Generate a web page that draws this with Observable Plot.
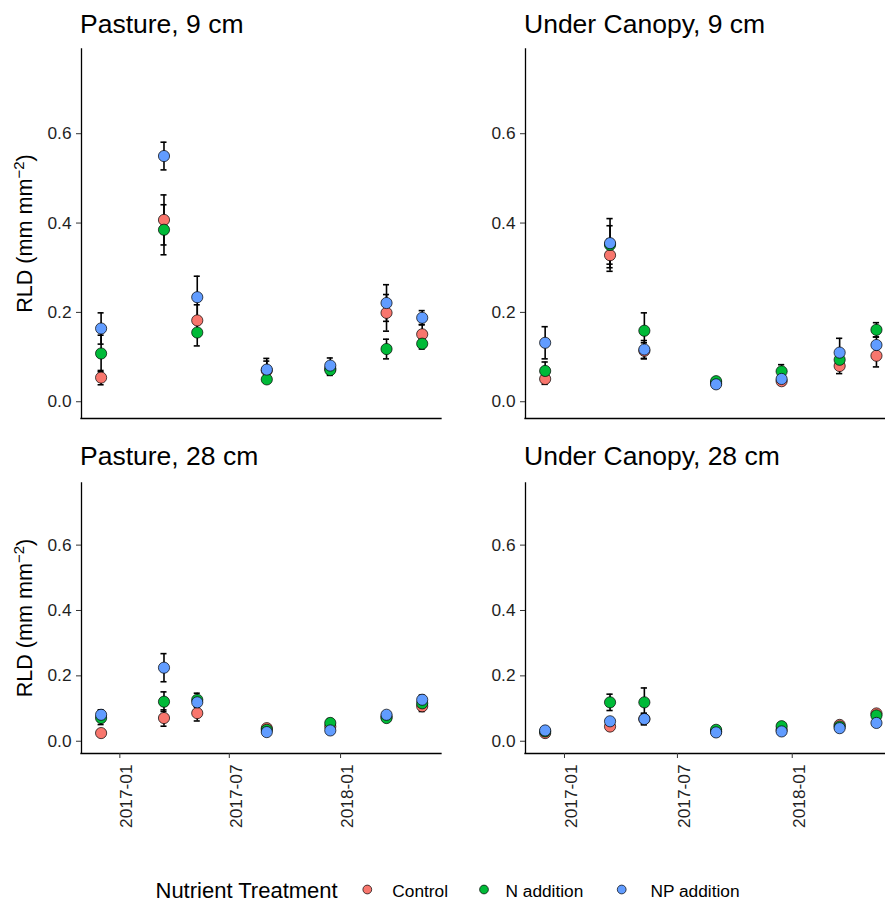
<!DOCTYPE html>
<html><head><meta charset="utf-8">
<script src="https://cdn.jsdelivr.net/npm/d3@7"></script>
<script src="https://cdn.jsdelivr.net/npm/@observablehq/plot@0.6"></script>
<style>
body{margin:0;background:#fff;}
#chart{position:relative;width:885px;height:901px;font-family:"Liberation Sans",Arial,sans-serif;}
.panel{position:absolute;}
#overlay{position:absolute;left:0;top:0;}
</style>
</head><body><div id="chart"></div>
<script>
// ---- data ----
const dates = ["2016-12-01","2017-03-15","2017-05-09","2017-09-01","2017-12-15","2018-03-18","2018-05-16"];
const treatments = ["Control","N addition","NP addition"];
const colors = ["#F8766D","#00BA38","#619CFF"];
const xTickDates = ["2017-01-01","2017-07-01","2018-01-01"];
const yTicks = [0, 0.2, 0.4, 0.6];

// rows: Control, N addition, NP addition
const pasture9Mean = [
  [0.054, 0.407, 0.182, 0.070, 0.074, 0.199, 0.151],
  [0.108, 0.385, 0.155, 0.050, 0.071, 0.118, 0.130],
  [0.164, 0.550, 0.234, 0.072, 0.081, 0.221, 0.188]];
const pasture9SE = [
  [0.016, 0.056, 0.035, 0.021, 0.012, 0.041, 0.022],
  [0.041, 0.056, 0.030, 0.008, 0.012, 0.022, 0.012],
  [0.035, 0.031, 0.047, 0.025, 0.017, 0.041, 0.016]];
const canopy9Mean = [
  [0.051, 0.328, 0.114, 0.042, 0.046, 0.080, 0.103],
  [0.069, 0.351, 0.159, 0.046, 0.068, 0.094, 0.161],
  [0.132, 0.355, 0.117, 0.039, 0.051, 0.110, 0.127]];
const canopy9SE = [
  [0.012, 0.036, 0.018, 0.004, 0.004, 0.017, 0.025],
  [0.020, 0.043, 0.040, 0.004, 0.015, 0.015, 0.016],
  [0.036, 0.055, 0.020, 0.004, 0.006, 0.032, 0.018]];
const pasture28Mean = [
  [0.025, 0.071, 0.086, 0.040, 0.045, 0.075, 0.107],
  [0.071, 0.121, 0.127, 0.035, 0.056, 0.071, 0.116],
  [0.081, 0.225, 0.119, 0.028, 0.033, 0.081, 0.127]];
const pasture28SE = [
  [0.005, 0.025, 0.024, 0.010, 0.008, 0.006, 0.016],
  [0.020, 0.030, 0.020, 0.006, 0.013, 0.006, 0.012],
  [0.015, 0.043, 0.015, 0.005, 0.005, 0.008, 0.014]];
const canopy28Mean = [
  [0.025, 0.045, 0.068, 0.030, 0.035, 0.050, 0.085],
  [0.030, 0.119, 0.119, 0.035, 0.046, 0.045, 0.079],
  [0.033, 0.061, 0.068, 0.027, 0.030, 0.040, 0.056]];
const canopy28SE = [
  [0.004, 0.008, 0.015, 0.004, 0.004, 0.008, 0.009],
  [0.004, 0.025, 0.044, 0.004, 0.005, 0.006, 0.010],
  [0.004, 0.008, 0.018, 0.003, 0.004, 0.005, 0.006]];

// ---- layout ----
const yDomain = [-0.0375, 0.7885];
const leftXDomain = [new Date("2016-10-29T14:00Z"), new Date("2018-06-16T22:00Z")];
const rightXDomain = [new Date("2016-10-30T12:00Z"), new Date("2018-05-30T12:00Z")];
const FONT = '"Liberation Sans", Arial, sans-serif';
const TEXT = "#1f1f1f";

const panels = [
  {title:"Pasture, 9 cm", mean:pasture9Mean, se:pasture9SE, left:0, top:40, width:442, mr:1, mb:2, xAxis:false, xDomain:leftXDomain},
  {title:"Under Canopy, 9 cm", mean:canopy9Mean, se:canopy9SE, left:444, top:40, width:441, mr:0, mb:2, xAxis:false, xDomain:rightXDomain},
  {title:"Pasture, 28 cm", mean:pasture28Mean, se:pasture28SE, left:0, top:474, width:442, mr:1, mb:101, xAxis:true, xDomain:leftXDomain},
  {title:"Under Canopy, 28 cm", mean:canopy28Mean, se:canopy28SE, left:444, top:474, width:441, mr:0, mb:101, xAxis:true, xDomain:rightXDomain}
];

const chart = document.getElementById("chart");
const xTicks = xTickDates.map(d => new Date(d));

for (const p of panels) {
  const rows = treatments.flatMap((t, ti) => dates.map((d, di) => ({
    date: new Date(d), trt: t, v: p.mean[ti][di], se: p.se[ti][di]
  })));
  const marks = [
    Plot.ruleX([p.xDomain[0]], {stroke: "black", strokeWidth: 1.3, strokeLinecap: "square"}),
    Plot.ruleY([yDomain[0]], {stroke: "black", strokeWidth: 1.3, strokeLinecap: "square"}),
    Plot.axisY({ticks: yTicks, tickFormat: d3.format(".1f"), tickSize: 5, tickPadding: 5, label: null, stroke: "#333", fill: TEXT}),
    Plot.ruleX(rows, {x: "date", y1: d => d.v - d.se, y2: d => d.v + d.se, stroke: "black", strokeWidth: 1.6}),
    Plot.ruleY(rows, {y: d => d.v + d.se, x1: d => d3.utcDay.offset(d.date, -5), x2: d => d3.utcDay.offset(d.date, 5), stroke: "black", strokeWidth: 1.6}),
    Plot.ruleY(rows, {y: d => d.v - d.se, x1: d => d3.utcDay.offset(d.date, -5), x2: d => d3.utcDay.offset(d.date, 5), stroke: "black", strokeWidth: 1.6}),
    Plot.dot(rows, {x: "date", y: "v", fill: "trt", r: 5.6, stroke: "black", strokeWidth: 0.7})
  ];
  if (p.xAxis) {
    marks.push(Plot.axisX({ticks: xTicks, tickFormat: () => "", tickSize: 5, label: null, stroke: "#333"}));
    marks.push(Plot.axisX({ticks: xTicks, tickFormat: d3.utcFormat("%Y-%m"), tickSize: 0, tickPadding: 11, tickRotate: -90, dx: 7, label: null, fill: TEXT}));
  }
  const xOpts = {type: "utc", domain: p.xDomain, label: null};
  if (!p.xAxis) xOpts.axis = null;
  const svg = Plot.plot({
    width: p.width, height: 380,
    marginLeft: 81, marginRight: p.mr, marginTop: 9, marginBottom: p.mb,
    x: xOpts,
    y: {domain: yDomain, label: null},
    color: {domain: treatments, range: colors},
    style: {fontFamily: FONT, fontSize: "17.3px", background: "transparent", overflow: "visible"},
    marks
  });
  const div = document.createElement("div");
  div.className = "panel";
  div.style.left = p.left + "px";
  div.style.top = p.top + "px";
  div.appendChild(svg);
  chart.appendChild(div);
}

// ---- titles, axis titles, legend ----
const ov = d3.select(chart).append("svg").attr("id", "overlay")
  .attr("width", 885).attr("height", 901)
  .style("font-family", FONT).style("pointer-events", "none");

const titlePos = [[80, 33], [524, 33], [80, 465], [524, 465]];
panels.forEach((p, i) => {
  ov.append("text").attr("x", titlePos[i][0]).attr("y", titlePos[i][1])
    .attr("font-size", 26.5).attr("fill", "black").text(p.title);
});

for (const cy of [233.5, 618]) {
  const t = ov.append("text").attr("transform", `translate(32,${cy}) rotate(-90)`)
    .attr("text-anchor", "middle").attr("font-size", 21.6).attr("fill", "black");
  t.append("tspan").text("RLD (mm mm");
  t.append("tspan").attr("dy", -8).attr("font-size", 15).text("\u22122");
  t.append("tspan").attr("dy", 8).text(")");
}

ov.append("text").attr("x", 155.5).attr("y", 897.5).attr("font-size", 22).attr("fill", "black").text("Nutrient Treatment");
const legX = [367.3, 484, 621.7];
const legLabelX = [392.3, 505.5, 650.5];
treatments.forEach((t, i) => {
  ov.append("circle").attr("cx", legX[i]).attr("cy", 889.5).attr("r", 4.4)
    .attr("fill", colors[i]).attr("stroke", "black").attr("stroke-width", 0.7);
  ov.append("text").attr("x", legLabelX[i]).attr("y", 896.5).attr("font-size", 17.3).attr("fill", "black").text(t);
});
</script>
</body></html>
